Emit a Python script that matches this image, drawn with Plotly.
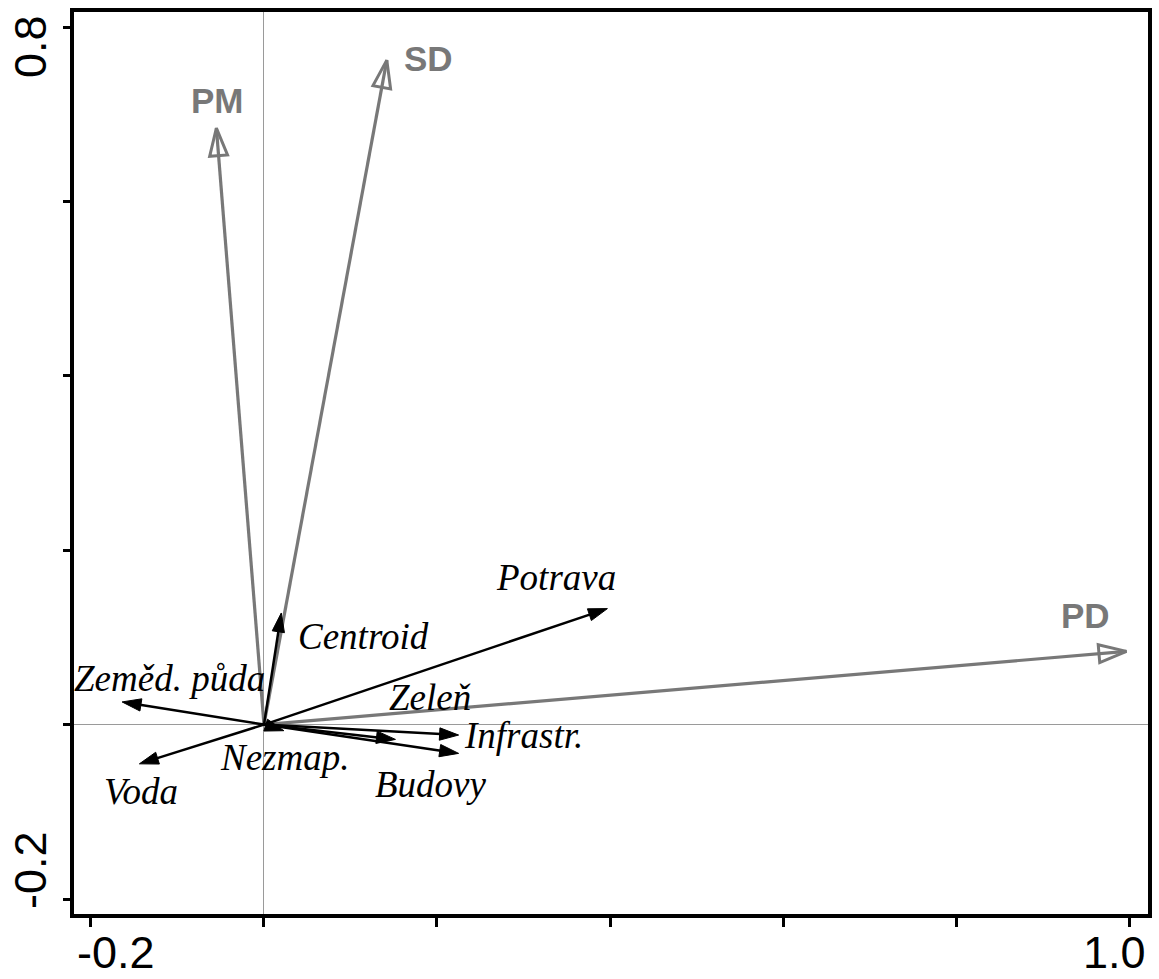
import plotly.graph_objects as go

# ---- data ----
env_labels = ["Potrava", "Centroid", "Zeměd. půda", "Voda", "Nezmap.", "Zeleň", "Infrastr.", "Budovy"]
env_x = [0.397, 0.020, -0.164, -0.144, 0.023, 0.152, 0.225, 0.225]
env_y = [0.133, 0.128, 0.026, -0.045, -0.007, -0.017, -0.012, -0.033]

resp_labels = ["PM", "SD", "PD"]
resp_x = [-0.055, 0.142, 0.997]
resp_y = [0.684, 0.762, 0.084]

x_ticks = [-0.2, 0.0, 0.2, 0.4, 0.6, 0.8, 1.0]
y_ticks = [-0.2, 0.0, 0.2, 0.4, 0.6, 0.8]
x_tick_labels = ["-0.2", "", "", "", "", "", "1.0"]
y_tick_labels = ["-0.2", "", "", "", "", "0.8"]

# ---- styling (label offsets in px) ----
env_label_shift = [(-51, 31), (82, -24), (47, 23), (2, -28), (1, -27), (35, 42), (65, 0), (-28, -31)]
resp_label_shift = [(1, 28), (42, 2), (-41, 36)]
x_label_shift = {"-0.2": 25, "1.0": -15}
y_label_shift = {"-0.2": 29, "0.8": -19}

GRAY = "#787878"
fig = go.Figure()

for lab, x, y in zip(resp_labels, resp_x, resp_y):
    fig.add_trace(go.Scatter(
        x=[0, x], y=[0, y], mode="lines+markers", name=lab,
        line=dict(color=GRAY, width=3.2),
        marker=dict(symbol="arrow-open", angleref="previous", size=[0, 29],
                    color=GRAY, opacity=1, line=dict(color=GRAY, width=3)),
        hoverinfo="skip", showlegend=False))

for lab, x, y in zip(env_labels, env_x, env_y):
    fig.add_trace(go.Scatter(
        x=[0, x], y=[0, y], mode="lines+markers", name=lab,
        line=dict(color="black", width=2.5),
        marker=dict(symbol="arrow", angleref="previous", size=[0, 20],
                    color="black", opacity=1, line=dict(color="black", width=1)),
        hoverinfo="skip", showlegend=False))

ann = []
for lab, x, y, (dx, dy) in zip(env_labels, env_x, env_y, env_label_shift):
    ann.append(dict(x=x, y=y, xref="x", yref="y", text=lab, showarrow=False,
                    xshift=dx, yshift=dy, xanchor="center", yanchor="middle",
                    font=dict(family="Liberation Serif", size=37, color="black", style="italic")))
for lab, x, y, (dx, dy) in zip(resp_labels, resp_x, resp_y, resp_label_shift):
    ann.append(dict(x=x, y=y, xref="x", yref="y", text="<b>" + lab + "</b>", showarrow=False,
                    xshift=dx, yshift=dy, xanchor="center", yanchor="middle",
                    font=dict(family="Liberation Sans", size=35, color=GRAY)))
for v, t in zip(x_ticks, x_tick_labels):
    if t:
        ann.append(dict(x=v, y=-0.043, xref="x", yref="paper", text=t, showarrow=False,
                        xshift=x_label_shift[t], xanchor="center", yanchor="middle",
                        font=dict(family="Liberation Sans", size=45, color="black")))
for v, t in zip(y_ticks, y_tick_labels):
    if t:
        ann.append(dict(x=-0.041, y=v, xref="paper", yref="y", text=t, showarrow=False,
                        yshift=y_label_shift[t], xanchor="center", yanchor="middle",
                        textangle=-90,
                        font=dict(family="Liberation Sans", size=45, color="black")))

axis_common = dict(showgrid=False, zeroline=True, zerolinecolor="#9a9a9a", zerolinewidth=1,
                   showline=True, linecolor="black", linewidth=3.5, mirror=True,
                   ticks="outside", tickcolor="black", tickwidth=2.5,
                   showticklabels=True)

fig.update_layout(
    width=1159, height=979,
    margin=dict(l=74, r=7, t=12, b=65),
    paper_bgcolor="white", plot_bgcolor="white",
    showlegend=False,
    annotations=ann,
    xaxis=dict(range=[-0.2196, 1.0219], tickvals=x_ticks, ticktext=[""] * len(x_ticks),
               ticklen=9, **axis_common),
    yaxis=dict(range=[-0.2172, 0.8172], tickvals=y_ticks, ticktext=[""] * len(y_ticks),
               ticklen=7, **axis_common),
)

fig.write_html("out.html")
